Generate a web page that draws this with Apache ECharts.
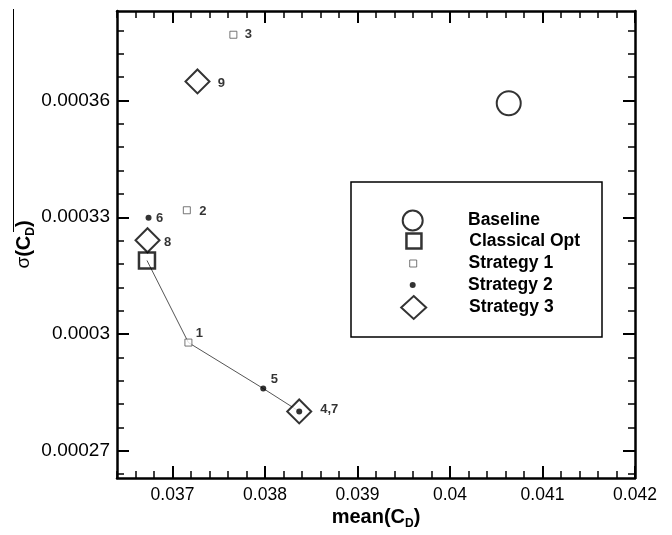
<!DOCTYPE html>
<html>
<head>
<meta charset="utf-8">
<script src="https://cdn.jsdelivr.net/npm/echarts@6/dist/echarts.min.js"></script>
<style>
  html, body { margin: 0; padding: 0; background: #fff; }
  #chart { width: 672px; height: 535px; }
</style>
</head>
<body>
<div id="chart"></div>
<script>
// baseline design and classical optimum
var baselineX = [0.040635];
var baselineY = [0.0003593];
var classicalX = [0.036724];
var classicalY = [0.0003189];

// strategy 1 (points 1, 2, 3)
var s1X = [0.037172, 0.037155, 0.037658];
var s1Y = [0.0002978, 0.0003318, 0.0003769];
var s1Labels = ["1", "2", "3"];

// strategy 2 (points 4, 5, 6)
var s2X = [0.03837, 0.037981, 0.036741];
var s2Y = [0.0002801, 0.000286, 0.0003299];
var s2Labels = ["", "5", "6"];

// strategy 3 (points 7, 8, 9) - 7 sits on 4
var s3X = [0.03837, 0.03673, 0.03727];
var s3Y = [0.0002801, 0.0003241, 0.0003649];
var s3Labels = ["4,7", "8", "9"];

// thin line through the front
var frontX = [0.036724, 0.037172, 0.037981, 0.03837];
var frontY = [0.0003189, 0.0002978, 0.000286, 0.0002801];

var xTicks = [0.037, 0.038, 0.039, 0.04, 0.041, 0.042];
var yTicks = [0.00027, 0.0003, 0.00033, 0.00036];
var xMin = 0.0364, xMax = 0.042;
var yMin = 0.000263, yMax = 0.000383;

var FONT = "Liberation Sans";

// minor ticks, tecplot style
var xMinor = [];
for (var i = 0; i <= 28; i++) xMinor.push(+(xMin + i * 0.0002).toFixed(6));
var yMinor = [];
for (var j = 0; j <= 19; j++) yMinor.push(+(0.000264 + j * 0.000006).toFixed(7));

// where each point number sits, relative to the marker centre
var labelOffset = {
  "1": [11, -9], "2": [16, 1], "3": [15, 0],
  "5": [11, -9], "6": [11, 1],
  "4,7": [30, -2], "8": [20, 2], "9": [24, 2]
};

function pts(xs, ys, labels) {
  return xs.map(function (x, k) {
    var d = { value: [x, ys[k]] };
    if (labels) {
      d.name = labels[k];
      d.label = { offset: labelOffset[labels[k]] || [0, 0] };
    }
    return d;
  });
}

function fmt(v) {
  return String(Number(v.toPrecision(6)));
}

var pointLabel = {
  show: true,
  position: "inside",
  formatter: "{b}",
  color: "#000",
  textBorderWidth: 0,
  textBorderColor: "transparent",
  fontFamily: FONT,
  fontWeight: "bold",
  fontSize: 13
};

function xAxisDef(pos, ticks, len, w, showLine, showLabel) {
  return {
    type: "value", position: pos, min: xMin, max: xMax,
    axisLine: { show: showLine, lineStyle: { color: "#000", width: 2.5 } },
    axisTick: { show: true, inside: true, customValues: ticks, length: len, lineStyle: { color: "#000", width: w } },
    axisLabel: showLabel ? {
      show: true, customValues: xTicks, formatter: fmt, margin: 8,
      color: "#000", fontFamily: FONT, fontSize: 17.5
    } : { show: false },
    splitLine: { show: false }
  };
}

function yAxisDef(pos, ticks, len, w, showLine, showLabel) {
  return {
    type: "value", position: pos, min: yMin, max: yMax,
    axisLine: { show: showLine, lineStyle: { color: "#000", width: 2.5 } },
    axisTick: { show: true, inside: true, customValues: ticks, length: len, lineStyle: { color: "#000", width: w } },
    axisLabel: showLabel ? {
      show: true, customValues: yTicks, formatter: fmt, margin: 7,
      color: "#000", fontFamily: FONT, fontSize: 19
    } : { show: false },
    splitLine: { show: false }
  };
}

var xAxes = [
  xAxisDef("bottom", xTicks, 12, 2, true, true),
  xAxisDef("bottom", xMinor, 7, 1.5, false, false),
  xAxisDef("top", xTicks, 12, 2, true, false),
  xAxisDef("top", xMinor, 7, 1.5, false, false)
];
xAxes[0].name = "{a|mean(C}{b|D}{a|)}";
xAxes[0].nameLocation = "middle";
xAxes[0].nameMoveOverlap = false;
xAxes[0].nameGap = 26;
xAxes[0].nameTextStyle = {
  rich: {
    a: { fontFamily: FONT, fontWeight: "bold", fontSize: 20, color: "#000", lineHeight: 26 },
    b: { fontFamily: FONT, fontWeight: "bold", fontSize: 12, color: "#000", lineHeight: 12, verticalAlign: "bottom" }
  }
};

var yAxes = [
  yAxisDef("left", yTicks, 12, 2, true, true),
  yAxisDef("left", yMinor, 7, 1.5, false, false),
  yAxisDef("right", yTicks, 12, 2, true, false),
  yAxisDef("right", yMinor, 7, 1.5, false, false)
];
yAxes[0].name = "{s|σ}{a|(C}{b|D}{a|)}";
yAxes[0].nameLocation = "middle";
yAxes[0].nameMoveOverlap = false;
yAxes[0].nameRotate = 90;
yAxes[0].nameGap = 80;
yAxes[0].nameTextStyle = {
  rich: {
    s: { fontFamily: FONT, fontSize: 19, color: "#000", lineHeight: 26 },
    a: { fontFamily: FONT, fontWeight: "bold", fontSize: 20, color: "#000", lineHeight: 26 },
    b: { fontFamily: FONT, fontWeight: "bold", fontSize: 12, color: "#000", lineHeight: 12, verticalAlign: "bottom" }
  }
};

// one legend per entry so each icon keeps its own size
var legendRows = [
  { name: "Baseline", cy: 219.5, w: 22, h: 20, style: { color: "rgba(255,255,255,0)", borderColor: "#000", borderWidth: 2 } },
  { name: "Classical Opt", cy: 241, w: 15, h: 15, style: { color: "rgba(255,255,255,0)", borderColor: "#000", borderWidth: 2.5 } },
  { name: "Strategy 1", cy: 263.5, w: 7, h: 7, style: { color: "#fff", borderColor: "#555", borderWidth: 1 } },
  { name: "Strategy 2", cy: 285, w: 6, h: 6, style: { color: "#000", borderWidth: 0 } },
  { name: "Strategy 3", cy: 306.5, w: 25, h: 23, style: { color: "#fff", borderColor: "#000", borderWidth: 2 } }
];
var iconCx = 412.7, textX = 468;
var legends = legendRows.map(function (r) {
  var H = Math.max(r.h, 20);
  return {
    data: [r.name],
    left: iconCx - r.w / 2,
    top: r.cy - H / 2,
    orient: "vertical",
    padding: 0,
    itemWidth: r.w,
    itemHeight: r.h,
    selectedMode: false,
    itemStyle: r.style,
    textStyle: {
      fontFamily: FONT, fontWeight: "bold", fontSize: 17.5, color: "#000",
      lineHeight: 20, padding: [0, 0, 0, textX - iconCx - r.w / 2 - 5]
    }
  };
});

var chart = echarts.init(document.getElementById("chart"), null, { renderer: "canvas" });
chart.setOption({
  animation: false,
  backgroundColor: "#fff",
  grid: { left: 117, right: 37, top: 11, bottom: 52, containLabel: false },
  xAxis: xAxes,
  yAxis: yAxes,
  legend: legends,
  graphic: [
    {
      type: "rect", z: 0,
      shape: { x: 351, y: 182, width: 251, height: 155 },
      style: { fill: "#fff", stroke: "#000", lineWidth: 1.5 }
    },
    {
      type: "line", z: 0,
      shape: { x1: 13.5, y1: 9, x2: 13.5, y2: 232 },
      style: { stroke: "#000", lineWidth: 1 }
    }
  ],
  series: [
    {
      name: "front", type: "line", data: pts(frontX, frontY),
      symbol: "none", silent: true, z: 1,
      lineStyle: { color: "#555", width: 1 }
    },
    {
      name: "Baseline", type: "scatter", data: pts(baselineX, baselineY),
      symbol: "circle", symbolSize: 24,
      itemStyle: { color: "rgba(255,255,255,0)", borderColor: "#000", borderWidth: 2 }
    },
    {
      name: "Classical Opt", type: "scatter", data: pts(classicalX, classicalY),
      symbol: "rect", symbolSize: 16,
      itemStyle: { color: "rgba(255,255,255,0)", borderColor: "#000", borderWidth: 2.5 }
    },
    {
      name: "Strategy 3", type: "scatter", data: pts(s3X, s3Y, s3Labels),
      symbol: "diamond", symbolSize: 24,
      itemStyle: { color: "#fff", borderColor: "#000", borderWidth: 2 },
      label: pointLabel
    },
    {
      name: "Strategy 1", type: "scatter", data: pts(s1X, s1Y, s1Labels),
      symbol: "rect", symbolSize: 7,
      itemStyle: { color: "#fff", borderColor: "#555", borderWidth: 1 },
      label: pointLabel
    },
    {
      name: "Strategy 2", type: "scatter", data: pts(s2X, s2Y, s2Labels),
      symbol: "circle", symbolSize: 6,
      itemStyle: { color: "#000" },
      label: pointLabel
    }
  ]
});
</script>
</body>
</html>
